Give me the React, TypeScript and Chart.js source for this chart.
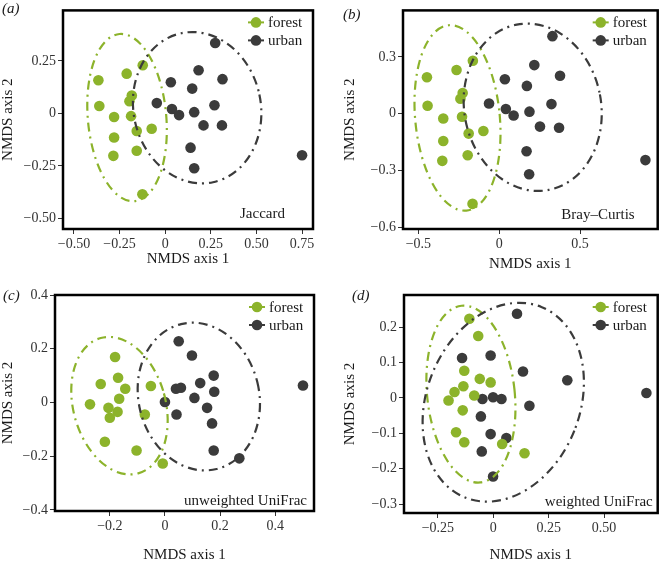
import React, { useEffect, useRef } from "react";
import { Chart, registerables } from "chart.js";
Chart.register(...registerables);

const GREEN = "#8cb32b";
const DARK = "#3b3b3b";
const FONT = "'Liberation Serif', 'DejaVu Serif', serif";

// ---- (a) Jaccard ----
const jaccardForest: [number, number][] = [
  [-0.366, 0.158], [-0.211, 0.189], [-0.123, 0.229], [-0.361, 0.035], [-0.183, 0.085],
  [-0.196, 0.058], [-0.28, -0.017], [-0.187, -0.013], [-0.156, -0.084], [-0.074, -0.073],
  [-0.28, -0.115], [-0.156, -0.178], [-0.284, -0.202], [-0.125, -0.385],
];
const jaccardUrban: [number, number][] = [
  [0.274, 0.335], [0.183, 0.205], [0.314, 0.163], [0.031, 0.148], [0.148, 0.118],
  [-0.046, 0.049], [0.27, 0.039], [0.037, 0.021], [0.076, -0.008], [0.159, 0.006],
  [0.21, -0.057], [0.311, -0.057], [0.139, -0.163], [0.159, -0.261], [0.75, -0.199],
];
const jaccardXTicks = [-0.5, -0.25, 0, 0.25, 0.5, 0.75];
const jaccardXLabels = ["\u22120.50", "\u22120.25", "0", "0.25", "0.50", "0.75"];
const jaccardYTicks = [-0.5, -0.25, 0, 0.25];
const jaccardYLabels = ["\u22120.50", "\u22120.25", "0", "0.25"];

// ---- (b) Bray–Curtis ----
const brayForest: [number, number][] = [
  [-0.447, 0.193], [-0.264, 0.231], [-0.163, 0.28], [-0.443, 0.042], [-0.226, 0.109],
  [-0.24, 0.079], [-0.346, -0.025], [-0.23, -0.016], [-0.189, -0.105], [-0.098, -0.091],
  [-0.346, -0.144], [-0.195, -0.219], [-0.352, -0.249], [-0.165, -0.476],
];
const brayUrban: [number, number][] = [
  [0.329, 0.41], [0.217, 0.257], [0.376, 0.201], [0.035, 0.182], [0.171, 0.147],
  [-0.063, 0.054], [0.323, 0.051], [0.041, 0.025], [0.089, -0.009], [0.187, 0.011],
  [0.252, -0.068], [0.37, -0.074], [0.169, -0.198], [0.185, -0.32], [0.904, -0.245],
];
const brayXTicks = [-0.5, 0, 0.5];
const brayXLabels = ["\u22120.5", "0", "0.5"];
const brayYTicks = [-0.6, -0.3, 0, 0.3];
const brayYLabels = ["\u22120.6", "\u22120.3", "0", "0.3"];

// ---- (c) unweighted UniFrac ----
const unwForest: [number, number][] = [
  [-0.181, 0.169], [-0.233, 0.069], [-0.17, 0.092], [-0.144, 0.051], [-0.051, 0.061],
  [-0.166, 0.014], [-0.272, -0.007], [-0.205, -0.02], [-0.172, -0.035], [-0.2, -0.057],
  [-0.073, -0.045], [-0.218, -0.146], [-0.103, -0.179], [-0.008, -0.227],
];
const unwUrban: [number, number][] = [
  [0.05, 0.228], [0.098, 0.175], [0.177, 0.1], [0.128, 0.072], [0.04, 0.051],
  [0.058, 0.055], [0.179, 0.04], [0.107, 0.017], [0.0, 0.002], [0.153, -0.02],
  [0.042, -0.045], [0.171, -0.078], [0.177, -0.179], [0.27, -0.208], [0.501, 0.063],
];
const unwXTicks = [-0.2, 0, 0.2, 0.4];
const unwXLabels = ["\u22120.2", "0", "0.2", "0.4"];
const unwYTicks = [-0.4, -0.2, 0, 0.2, 0.4];
const unwYLabels = ["\u22120.4", "\u22120.2", "0", "0.2", "0.4"];

// ---- (d) weighted UniFrac ----
const wForest: [number, number][] = [
  [-0.108, 0.224], [-0.068, 0.175], [-0.131, 0.077], [-0.061, 0.054], [-0.012, 0.044],
  [-0.135, 0.033], [-0.175, 0.017], [-0.202, -0.007], [-0.086, 0.007], [-0.138, -0.035],
  [-0.168, -0.097], [-0.131, -0.125], [0.04, -0.13], [0.141, -0.156],
];
const wUrban: [number, number][] = [
  [0.107, 0.238], [-0.012, 0.12], [-0.141, 0.113], [0.134, 0.075], [0.334, 0.05],
  [-0.049, -0.003], [-0.001, 0.002], [0.037, -0.003], [0.163, -0.022], [-0.056, -0.052],
  [-0.012, -0.102], [0.059, -0.113], [-0.052, -0.151], [-0.001, -0.222], [0.691, 0.014],
];
const wXTicks = [-0.25, 0, 0.25, 0.5];
const wXLabels = ["\u22120.25", "0", "0.25", "0.50"];
const wYTicks = [-0.3, -0.2, -0.1, 0, 0.1, 0.2];
const wYLabels = ["\u22120.3", "\u22120.2", "\u22120.1", "0", "0.1", "0.2"];

// ellipses: [centerX, centerY, halfWidth, halfHeight, tilt]
const jaccardForestEllipse = [-0.209, -0.02, 0.218, 0.398, -0.09];
const jaccardUrbanEllipse = [0.175, 0.027, 0.352, 0.36, -0.21];
const brayForestEllipse = [-0.258, -0.022, 0.266, 0.49, -0.095];
const brayUrbanEllipse = [0.207, 0.034, 0.427, 0.442, -0.19];
const unwForestEllipse = [-0.165, -0.012, 0.175, 0.256, -0.27];
const unwUrbanEllipse = [0.123, 0.022, 0.222, 0.275, -0.24];
const wForestEllipse = [-0.101, 0.011, 0.201, 0.25, -0.106];
const wUrbanEllipse = [0.045, -0.012, 0.364, 0.281, 0.38];

const legendLabels = ["forest", "urban"];

type Panel = {
  letter: string; metric: string;
  left: number; top: number; w: number; h: number;
  pad: { left: number; top: number; right: number; bottom: number };
  yW: number; xH: number;
  xMin: number; xMax: number; yMin: number; yMax: number;
  xTicks: number[]; xLabels: string[]; yTicks: number[]; yLabels: string[];
  forest: [number, number][]; urban: [number, number][];
  fEll: number[]; uEll: number[];
  letterPos: [number, number]; metricOff: [number, number];
};

const panels: Panel[] = [
  {
    letter: "(a)", metric: "Jaccard", left: 0, top: 0, w: 330, h: 280,
    pad: { left: 0.5, top: 9.5, right: 17, bottom: 13.5 }, yW: 62.5, xH: 37.5,
    xMin: -0.56, xMax: 0.81, yMin: -0.55, yMax: 0.49,
    xTicks: jaccardXTicks, xLabels: jaccardXLabels, yTicks: jaccardYTicks, yLabels: jaccardYLabels,
    forest: jaccardForest, urban: jaccardUrban, fEll: jaccardForestEllipse, uEll: jaccardUrbanEllipse,
    letterPos: [2, 8], metricOff: [28, 16],
  },
  {
    letter: "(b)", metric: "Bray\u2013Curtis", left: 330, top: 0, w: 333, h: 280,
    pad: { left: 12.5, top: 9.5, right: 2, bottom: 8.5 }, yW: 60.5, xH: 42.5,
    xMin: -0.595, xMax: 0.98, yMin: -0.609, yMax: 0.546,
    xTicks: brayXTicks, xLabels: brayXLabels, yTicks: brayYTicks, yLabels: brayYLabels,
    forest: brayForest, urban: brayUrban, fEll: brayForestEllipse, uEll: brayUrbanEllipse,
    letterPos: [13, 14], metricOff: [23, 15],
  },
  {
    letter: "(c)", metric: "unweighted UniFrac", left: 0, top: 280, w: 330, h: 283,
    pad: { left: 0.5, top: 15, right: 16, bottom: 0.5 }, yW: 54.5, xH: 51.5,
    xMin: -0.399, xMax: 0.541, yMin: -0.404, yMax: 0.4,
    xTicks: unwXTicks, xLabels: unwXLabels, yTicks: unwYTicks, yLabels: unwYLabels,
    forest: unwForest, urban: unwUrban, fEll: unwForestEllipse, uEll: unwUrbanEllipse,
    letterPos: [3, 15], metricOff: [7, 11],
  },
  {
    letter: "(d)", metric: "weighted UniFrac", left: 330, top: 280, w: 333, h: 283,
    pad: { left: 12.5, top: 15, right: 2, bottom: 0.5 }, yW: 61.5, xH: 49.5,
    xMin: -0.403, xMax: 0.742, yMin: -0.325, yMax: 0.291,
    xTicks: wXTicks, xLabels: wXLabels, yTicks: wYTicks, yLabels: wYLabels,
    forest: wForest, urban: wUrban, fEll: wForestEllipse, uEll: wUrbanEllipse,
    letterPos: [22, 15], metricOff: [5, 12],
  },
];

function makePlugin(p: Panel) {
  return {
    id: "panelDecor",
    afterDatasetsDraw(chart: any) {
      const { ctx, scales } = chart;
      const xs = scales.x, ys = scales.y;
      const ells: [number[], string][] = [[p.fEll, GREEN], [p.uEll, DARK]];
      for (const [e, color] of ells) {
        const [ecx, ecy, hw, hh, th] = e;
        const cx = xs.getPixelForValue(ecx), cy = ys.getPixelForValue(ecy);
        const W = Math.abs(xs.getPixelForValue(ecx + hw) - cx);
        const H = Math.abs(ys.getPixelForValue(ecy + hh) - cy);
        const c2 = Math.cos(th) ** 2, s2 = Math.sin(th) ** 2, d = c2 - s2;
        const a = Math.sqrt(Math.max(1, (W * W * c2 - H * H * s2) / d));
        const b = Math.sqrt(Math.max(1, (H * H * c2 - W * W * s2) / d));
        ctx.save();
        ctx.beginPath();
        ctx.ellipse(cx, cy, a, b, th, 0, Math.PI * 2);
        ctx.setLineDash([9, 5, 2, 5]);
        ctx.lineWidth = 2.2;
        ctx.strokeStyle = color;
        ctx.stroke();
        ctx.restore();
      }
    },
    afterDraw(chart: any) {
      const { ctx, chartArea } = chart;
      const { left, top, right, bottom } = chartArea;
      ctx.save();
      // panel border
      ctx.lineWidth = 2.5;
      ctx.strokeStyle = "#000";
      ctx.strokeRect(left, top, right - left, bottom - top);
      // legend
      const rows: [string, string, number][] = [[legendLabels[0], GREEN, 12], [legendLabels[1], DARK, 30]];
      ctx.font = `15px ${FONT}`;
      ctx.textBaseline = "middle";
      ctx.textAlign = "left";
      for (const [lab, col, dy] of rows) {
        const sx = right - 57, sy = top + dy;
        ctx.strokeStyle = col;
        ctx.lineWidth = 2;
        ctx.beginPath();
        ctx.moveTo(sx - 8, sy);
        ctx.lineTo(sx + 8, sy);
        ctx.stroke();
        ctx.fillStyle = col;
        ctx.beginPath();
        ctx.arc(sx, sy, 5.3, 0, Math.PI * 2);
        ctx.fill();
        ctx.fillStyle = "#1a1a1a";
        ctx.fillText(lab, right - 45, sy + 1);
      }
      // metric label
      ctx.textAlign = "right";
      ctx.fillStyle = "#1a1a1a";
      ctx.fillText(p.metric, right - p.metricOff[0], bottom - p.metricOff[1] + 1);
      // panel letter
      ctx.textAlign = "left";
      ctx.font = `italic 15px ${FONT}`;
      ctx.fillText(p.letter, p.letterPos[0], p.letterPos[1] + 1);
      ctx.restore();
    },
  };
}

function labelFor(ticks: number[], labels: string[], v: number) {
  const i = ticks.findIndex((t) => Math.abs(t - v) < 1e-9);
  return i >= 0 ? labels[i] : "";
}

function PanelChart({ p }: { p: Panel }) {
  const ref = useRef<HTMLCanvasElement | null>(null);
  useEffect(() => {
    if (!ref.current) return;
    const tickFont = { family: FONT, size: 14 };
    const titleFont = { family: FONT, size: 15, lineHeight: 1 };
    const chart = new Chart(ref.current, {
      type: "scatter",
      data: {
        datasets: [
          {
            label: legendLabels[0],
            data: p.forest.map(([x, y]) => ({ x, y })),
            backgroundColor: GREEN, borderWidth: 0, pointRadius: 5.3, pointHoverRadius: 5.3,
          },
          {
            label: legendLabels[1],
            data: p.urban.map(([x, y]) => ({ x, y })),
            backgroundColor: DARK, borderWidth: 0, pointRadius: 5.3, pointHoverRadius: 5.3,
          },
        ],
      },
      options: {
        responsive: false,
        animation: false,
        events: [],
        layout: { padding: p.pad },
        plugins: { legend: { display: false }, tooltip: { enabled: false } },
        scales: {
          x: {
            type: "linear", min: p.xMin, max: p.xMax,
            afterBuildTicks: (s: any) => { s.ticks = p.xTicks.map((v) => ({ value: v })); },
            afterFit: (s: any) => { s.height = p.xH; },
            ticks: {
              autoSkip: false, maxRotation: 0, padding: 2, color: "#333", font: tickFont,
              callback: (v: any) => labelFor(p.xTicks, p.xLabels, Number(v)),
            },
            grid: { display: true, drawOnChartArea: false, drawTicks: true, tickLength: 5, color: "#333" },
            border: { display: false },
            title: { display: true, text: "NMDS axis 1", font: titleFont, color: "#1a1a1a", padding: 0 },
          },
          y: {
            type: "linear", min: p.yMin, max: p.yMax,
            afterBuildTicks: (s: any) => { s.ticks = p.yTicks.map((v) => ({ value: v })); },
            afterFit: (s: any) => { s.width = p.yW; },
            ticks: {
              autoSkip: false, padding: 2, color: "#333", font: tickFont,
              callback: (v: any) => labelFor(p.yTicks, p.yLabels, Number(v)),
            },
            grid: { display: true, drawOnChartArea: false, drawTicks: true, tickLength: 5, color: "#333" },
            border: { display: false },
            title: { display: true, text: "NMDS axis 2", font: titleFont, color: "#1a1a1a", padding: 0 },
          },
        },
      } as any,
      plugins: [makePlugin(p)],
    });
    return () => chart.destroy();
  }, [p]);
  return (
    <canvas
      ref={ref}
      width={p.w}
      height={p.h}
      style={{ position: "absolute", left: p.left, top: p.top, width: p.w, height: p.h }}
    />
  );
}

export default function App() {
  return (
    <div style={{ position: "absolute", left: 0, top: 0, width: 663, height: 563, overflow: "hidden", background: "#fff" }}>
      {panels.map((p) => (
        <PanelChart key={p.letter} p={p} />
      ))}
    </div>
  );
}
